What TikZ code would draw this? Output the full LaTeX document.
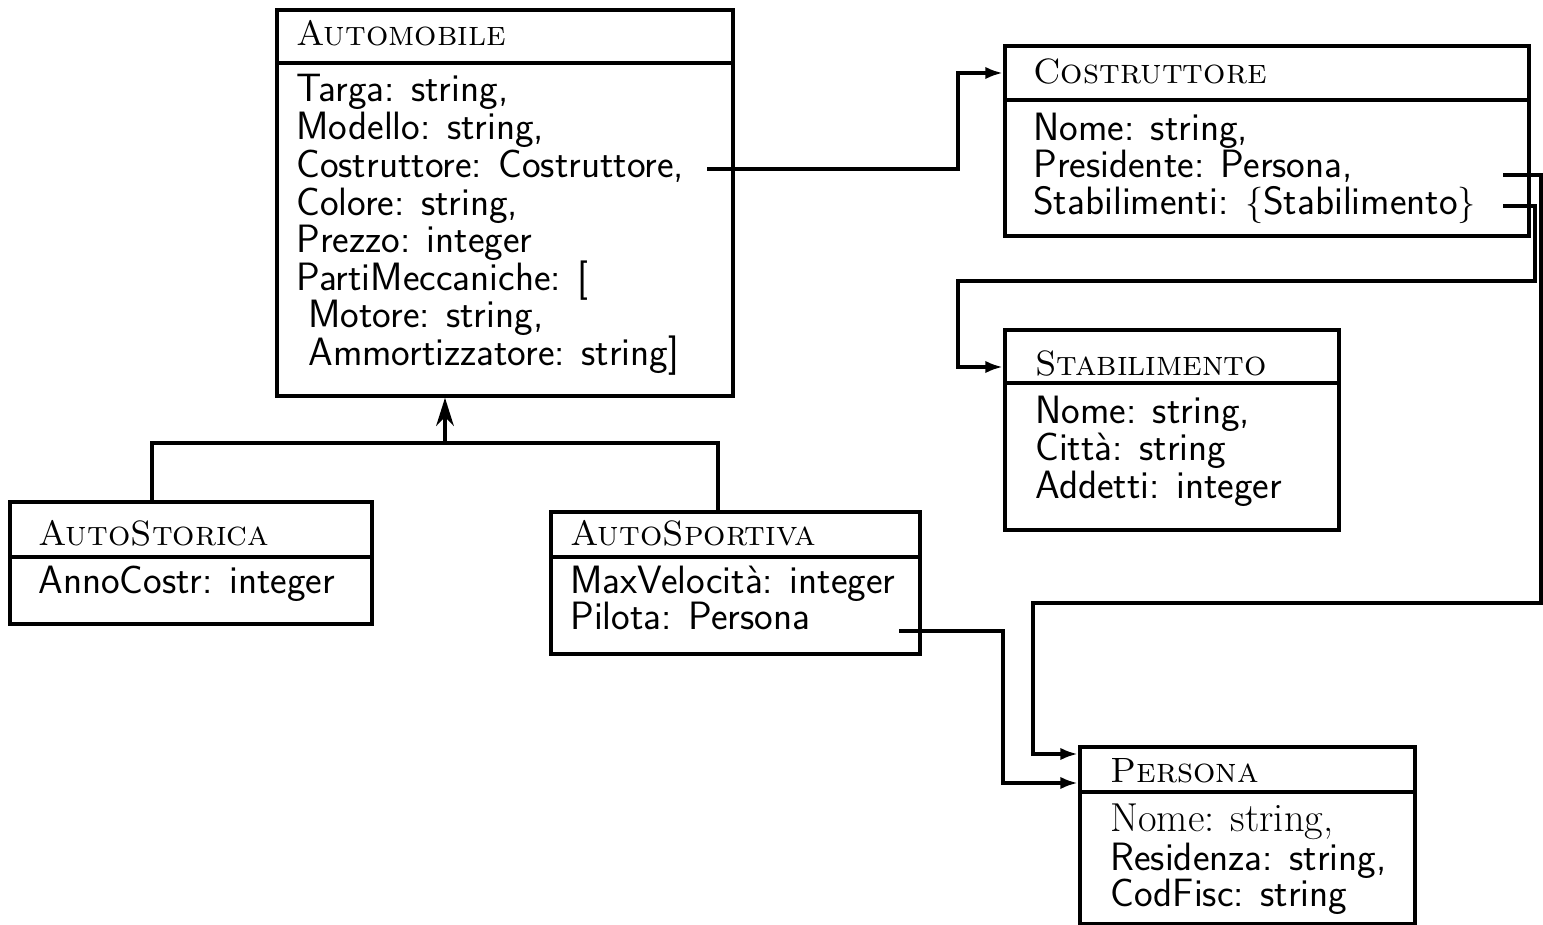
\documentclass[tikz,border=0pt]{standalone}
\usetikzlibrary{arrows.meta}
\begin{document}
\begin{tikzpicture}[x=0.02cm,y=-0.02cm,
  box/.style={draw, line width=2.2pt, inner sep=0pt, anchor=north west},
  sep/.style={line width=2.2pt},
  ttl/.style={anchor=base west, inner sep=0pt, font=\fontsize{20}{22}\selectfont\scshape},
  att/.style={anchor=base west, inner sep=0pt, font=\fontsize{22.5}{24}\selectfont\sffamily},
  attr/.style={anchor=base west, inner sep=0pt, font=\fontsize{23}{24}\selectfont\rmfamily},
  wire/.style={line width=2.1pt},
  conn/.style={wire, -{Latex[length=10pt,width=7pt]}},
  isa/.style={wire, -{Stealth[length=16pt,width=10pt,inset=5pt]}}]
\useasboundingbox (0,0) rectangle (1543,925);

% Automobile
\node[box, minimum width=9.12cm, minimum height=7.72cm] (auto) at (275,8) {};
\draw[sep] (auto.west |- 0,63) -- (auto.east |- 0,63);
\node[ttl] (autot) at (296,46) {Automobile};
\node[att] (a1) at (296,102) {Targa: string,};
\node[att] (a2) at (296,140) {Modello: string,};
\node[att] (a3) at (296,178) {Costruttore: Costruttore,};
\node[att] (a4) at (296,216) {Colore: string,};
\node[att] (a5) at (296,253) {Prezzo: integer};
\node[att] (a6) at (296,291) {PartiMeccaniche: [};
\node[att] (a7) at (308,328) {Motore: string,};
\node[att] (a8) at (308,366) {Ammortizzatore: string]};

% Costruttore
\node[box, minimum width=10.48cm, minimum height=3.8cm] (cos) at (1003,44) {};
\draw[sep] (cos.west |- 0,100) -- (cos.east |- 0,100);
\node[ttl] (cost) at (1033,84) {Costruttore};
\node[att] (c1) at (1033,141) {Nome: string,};
\node[att] (c2) at (1033,178) {Presidente: Persona,};
\node[att] (c3) at (1033,215) {Stabilimenti: $\{$Stabilimento$\}$};

% Stabilimento
\node[box, minimum width=6.68cm, minimum height=4cm] (stb) at (1003,328) {};
\draw[sep] (stb.west |- 0,383) -- (stb.east |- 0,383);
\node[ttl] (stbt) at (1035,376) {Stabilimento};
\node[att] (s1) at (1035,424) {Nome: string,};
\node[att] (s2) at (1035,461) {Città: string};
\node[att] (s3) at (1035,499) {Addetti: integer};

% AutoStorica
\node[box, minimum width=7.24cm, minimum height=2.44cm] (sto) at (8,500) {};
\draw[sep] (sto.west |- 0,557) -- (sto.east |- 0,557);
\node[ttl] (stot) at (38,546) {AutoStorica};
\node[att] (h1) at (38,594) {AnnoCostr: integer};

% AutoSportiva
\node[box, minimum width=7.38cm, minimum height=2.84cm] (spo) at (549,510) {};
\draw[sep] (spo.west |- 0,557) -- (spo.east |- 0,557);
\node[ttl] (spot) at (570,546) {AutoSportiva};
\node[att] (v1) at (570,594) {MaxVelocità: integer};
\node[att] (v2) at (570,630) {Pilota: Persona};

% Persona
\node[box, minimum width=6.7cm, minimum height=3.54cm] (per) at (1078,745) {};
\draw[sep] (per.west |- 0,792) -- (per.east |- 0,792);
\node[ttl] (pert) at (1110,783) {Persona};
\node[attr] (r1) at (1110,832) {Nome: string,};
\node[att] (r2) at (1110,870) {Residenza: string,};
\node[att] (r3) at (1110,907) {CodFisc: string};

% Inheritance
\coordinate (hs) at (152,500);
\coordinate (hp) at (718,510);
\coordinate (hm) at (445,443);
\draw[wire] (hs) |- (hp |- hm) -- (hp);
\draw[isa] (hm) -- (hm |- auto.south);

% Costruttore link
\coordinate (k0) at (707,169);
\coordinate (k1) at (958,73);
\draw[conn] (k0) -| (k1) -- (k1 -| cos.west);

% Presidente link
\coordinate (p0) at (1503,175);
\coordinate (p1) at (1541,603);
\coordinate (p2) at (1033,754);
\draw[conn] (p0) -| (p1) -| (p2) -- (p2 -| per.west);

% Stabilimenti link
\coordinate (t0) at (1503,206);
\coordinate (t1) at (1535,281);
\coordinate (t2) at (958,367);
\draw[conn] (t0) -| (t1) -| (t2) -- (t2 -| stb.west);

% Pilota link
\coordinate (q0) at (899,631);
\coordinate (q1) at (1003,783);
\draw[conn] (q0) -| (q1) -- (q1 -| per.west);
\end{tikzpicture}
\end{document}
